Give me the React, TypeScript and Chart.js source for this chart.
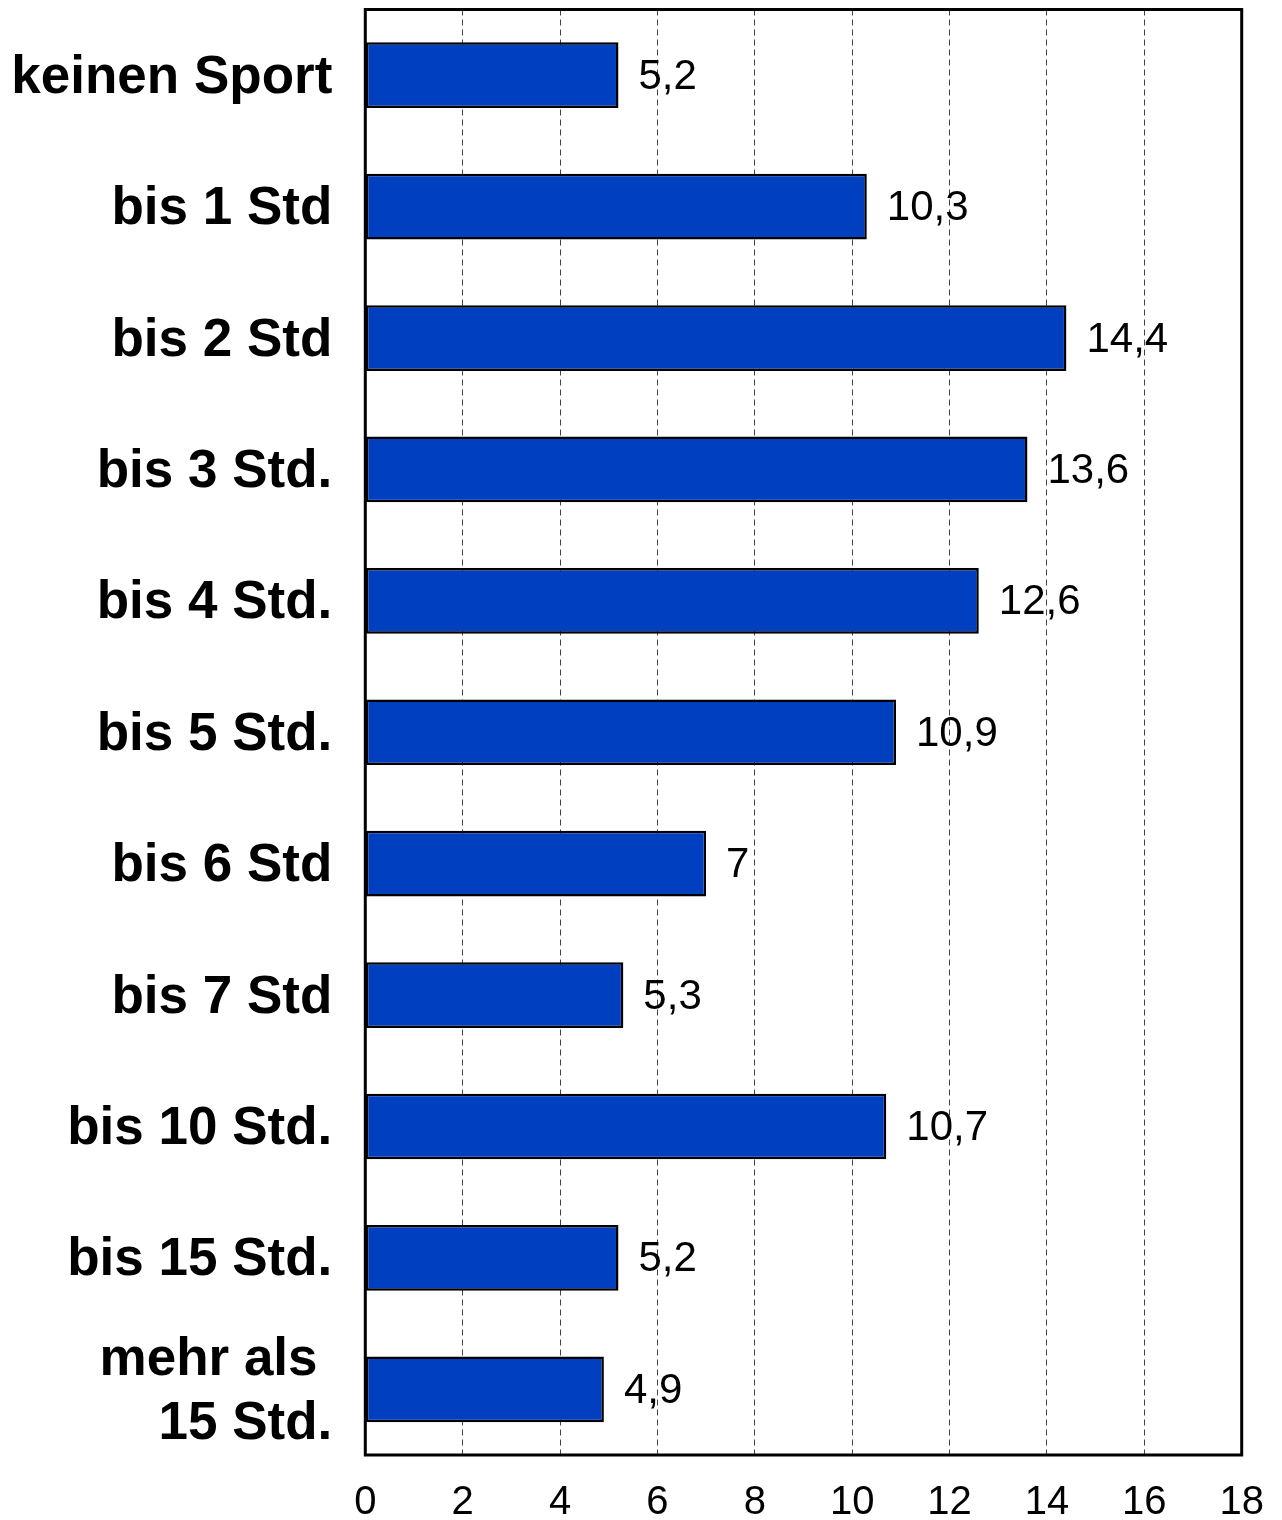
import React, { useEffect, useRef } from "react";
import { Chart, registerables } from "chart.js";

Chart.register(...registerables);

const categories: (string | string[])[] = [
  "keinen Sport",
  "bis 1 Std",
  "bis 2 Std",
  "bis 3 Std.",
  "bis 4 Std.",
  "bis 5 Std.",
  "bis 6 Std",
  "bis 7 Std",
  "bis 10 Std.",
  "bis 15 Std.",
  ["mehr als ", "15 Std."],
];

const values: number[] = [5.2, 10.3, 14.4, 13.6, 12.6, 10.9, 7, 5.3, 10.7, 5.2, 4.9];

const xMin = 0;
const xMax = 18;
const xStep = 2;

const FONT = "'Liberation Sans', Arial, Helvetica, sans-serif";

const valueLabelPlugin = {
  id: "valueLabels",
  afterDatasetsDraw(chart: any) {
    const ctx = chart.ctx;
    const meta = chart.getDatasetMeta(0);
    ctx.save();
    ctx.font = `42px ${FONT}`;
    ctx.fillStyle = "#000";
    ctx.textAlign = "left";
    ctx.textBaseline = "middle";
    meta.data.forEach((bar: any, i: number) => {
      const txt = String(values[i]).replace(".", ",");
      ctx.fillText(txt, bar.x + 20, bar.y + 2);
    });
    ctx.restore();
  },
};

const framePlugin = {
  id: "frame",
  afterDraw(chart: any) {
    const { ctx, chartArea } = chart;
    ctx.save();
    ctx.strokeStyle = "#000";
    ctx.lineWidth = 3;
    ctx.strokeRect(
      chartArea.left,
      chartArea.top,
      chartArea.right - chartArea.left,
      chartArea.bottom - chartArea.top
    );
    ctx.restore();
  },
};

const zeroPad = (scale: any) => {
  scale.paddingTop = 0;
  scale.paddingBottom = 0;
  scale.paddingLeft = 0;
  scale.paddingRight = 0;
};

export default function App() {
  const ref = useRef<HTMLCanvasElement | null>(null);

  useEffect(() => {
    if (!ref.current) return;
    const chart = new Chart(ref.current, {
      type: "bar",
      data: {
        labels: categories,
        datasets: [
          {
            data: values,
            backgroundColor: "#0040C0",
            borderColor: "#000",
            borderWidth: 2.5,
            borderSkipped: false,
            barPercentage: 0.5,
            categoryPercentage: 1,
          },
        ],
      },
      options: {
        indexAxis: "y",
        animation: false,
        responsive: false,
        maintainAspectRatio: false,
        layout: { padding: { top: 1.5, right: 32.3, left: 0, bottom: 0 } },
        plugins: {
          legend: { display: false },
          tooltip: { enabled: false },
        },
        scales: {
          x: {
            min: xMin,
            max: xMax,
            grid: {
              display: true,
              drawTicks: false,
              color: "#444",
              lineWidth: 1,
            },
            border: { display: false, dash: [6, 4] },
            ticks: {
              stepSize: xStep,
              color: "#000",
              font: { family: FONT, size: 40 },
              padding: 24,
              maxRotation: 0,
            },
            afterFit: (scale: any) => {
              scale.height = 65;
              zeroPad(scale);
            },
          },
          y: {
            grid: { display: false, drawTicks: false },
            border: { display: false },
            ticks: {
              color: "#000",
              font: { family: FONT, size: 53, weight: "bold" },
              padding: 33,
              labelOffset: 3,
              autoSkip: false,
            },
            afterFit: (scale: any) => {
              scale.width = 357.3;
              zeroPad(scale);
            },
          },
        },
      },
      plugins: [valueLabelPlugin, framePlugin],
    } as any);
    return () => chart.destroy();
  }, []);

  return (
    <div style={{ width: 1266, height: 1512 }}>
      <canvas ref={ref} width={1266} height={1512} />
    </div>
  );
}
